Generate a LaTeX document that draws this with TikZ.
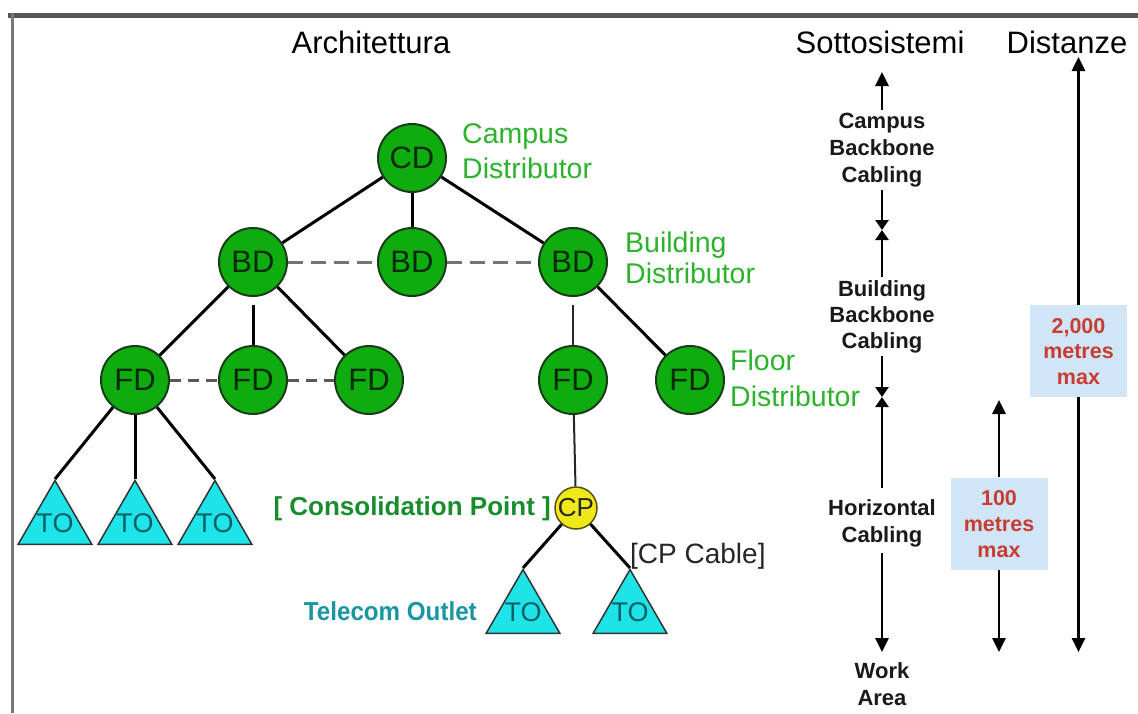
\documentclass[tikz,border=0pt]{standalone}
\usepackage{fontspec}
\setmainfont{Liberation Sans}
\newfontfamily\narrowfont[FakeStretch=0.93]{Liberation Sans}
\usetikzlibrary{arrows.meta,shapes.geometric}
\definecolor{nodegreen}{RGB}{14,172,14}
\definecolor{nodeedge}{RGB}{25,60,25}
\definecolor{nodetxt}{RGB}{10,40,10}
\definecolor{lblgreen}{RGB}{45,178,45}
\definecolor{cpgreen}{RGB}{25,140,45}
\definecolor{tealtxt}{RGB}{25,150,160}
\definecolor{tocyan}{RGB}{30,228,232}
\definecolor{totxt}{RGB}{10,95,105}
\definecolor{cpyellow}{RGB}{240,232,25}
\definecolor{cpedge}{RGB}{90,80,10}
\definecolor{redtxt}{RGB}{200,60,50}
\definecolor{boxblue}{RGB}{208,230,247}
\definecolor{framegray}{RGB}{85,85,85}
\begin{document}
\begin{tikzpicture}[x=1pt,y=-1pt,
  title/.style={font=\fontsize{31}{37}\selectfont, anchor=base, inner sep=0pt},
  dist/.style={circle, draw=nodeedge, line width=2pt, fill=nodegreen, minimum size=68pt, inner sep=0pt, font=\fontsize{31}{36}\selectfont, text=nodetxt},
  cpnode/.style={circle, draw=cpedge, line width=1.5pt, fill=cpyellow, minimum size=42pt, inner sep=0pt, font=\fontsize{26}{30}\selectfont, text=black!85},
  tonode/.style={regular polygon, regular polygon sides=3, minimum size=85pt, inner sep=0pt, draw=black!80, line width=1.5pt, fill=tocyan},
  totext/.style={font=\fontsize{27}{32}\selectfont, text=totxt, inner sep=0pt},
  glabel/.style={font=\fontsize{28.5}{34}\selectfont, text=lblgreen, anchor=base west, inner sep=0pt},
  link/.style={draw=black, line width=3pt},
  thinlink/.style={draw=black!85, line width=2pt},
  dashlink/.style={draw=black!55, line width=3pt, dash pattern=on 15pt off 8pt},
  dashlinkb/.style={draw=black!65, line width=3pt, dash pattern=on 11pt off 7pt},
  arr/.style={draw=black, line width=2.7pt, -{Triangle[width=13pt,length=14pt]}},
  harr/.style={draw=black, line width=2.7pt, -{Triangle[width=13pt,length=10pt]}},
  rtxt/.style={font=\bfseries\fontsize{22}{26}\selectfont, anchor=base, inner sep=0pt, text=black!90},
  redline/.style={font=\bfseries\fontsize{21.5}{25}\selectfont, anchor=base, inner sep=0pt, text=redtxt},
  distbox/.style={fill=boxblue, minimum width=97pt, minimum height=92pt, inner sep=0pt}
]
\useasboundingbox (0,0) rectangle (1138,713);

% frame
\draw[framegray, line width=5pt] (8,15) -- (1138,15);
\draw[framegray!80, line width=3pt] (12,13) -- (12,713);

% titles
\node[title] (tarch) at (371,53) {Architettura};
\node[title] (tsott) at (880,53) {Sottosistemi};
\node[title] (tdist) at (1067,53) {Distanze};

% distributor nodes
\node[dist] (cd) at (412,158) {CD};
\node[dist] (bd1) at (253,262) {BD};
\node[dist] (bd2) at (412,262) {BD};
\node[dist] (bd3) at (573,262) {BD};
\node[dist] (fd1) at (135,380) {FD};
\node[dist] (fd2) at (253,380) {FD};
\node[dist] (fd3) at (369,380) {FD};
\node[dist] (fd4) at (573,380) {FD};
\node[dist] (fd5) at (690,380) {FD};
\node[cpnode] (cp) at (576,508) {CP};

% telecom outlets
\node[tonode] (to1) at (55,523) {};
\node[tonode] (to2) at (135,523) {};
\node[tonode] (to3) at (215,523) {};
\node[tonode] (to4) at (523,612) {};
\node[tonode] (to5) at (630,612) {};
\node[totext] (to1t) at (to1.center) {TO};
\node[totext] (to2t) at (to2.center) {TO};
\node[totext] (to3t) at (to3.center) {TO};
\node[totext] (to4t) at (to4.center) {TO};
\node[totext] (to5t) at (to5.center) {TO};

% connectors
\draw[link] (cd) -- (bd1);
\draw[link] (cd) -- (bd2);
\draw[link] (cd) -- (bd3);
\draw[dashlink] (bd1) -- (bd2);
\draw[dashlink] (bd2) -- (bd3);
\draw[link] (bd1) -- (fd1);
\draw[link, shorten <=8pt] (bd1) -- (fd2);
\draw[link] (bd1) -- (fd3);
\draw[dashlinkb] (fd1) -- (fd2);
\draw[dashlinkb] (fd2) -- (fd3);
\draw[thinlink, shorten <=8pt] (bd3) -- (fd4);
\draw[link] (bd3) -- (fd5);
\draw[link] (fd1) -- (to1.corner 1);
\draw[link] (fd1) -- (to2.corner 1);
\draw[link] (fd1) -- (to3.corner 1);
\draw[thinlink] (fd4) -- (cp);
\draw[link] (cp) -- (to4.corner 1);
\draw[link] (cp) -- (to5.corner 1);

% green labels
\node[glabel] (lcd1) at (462,143) {Campus};
\node[glabel] (lcd2) at (462,178) {Distributor};
\node[glabel] (lbd1) at (625,252) {Building};
\node[glabel] (lbd2) at (625,283) {Distributor};
\node[glabel] (lfd1) at (730,370) {Floor};
\node[glabel] (lfd2) at (730,406) {Distributor};
\node[font=\bfseries\fontsize{26}{30}\selectfont, text=cpgreen, anchor=base east, inner sep=0pt] (lcp) at (551,515) {[ Consolidation Point ]};
\node[font=\fontsize{28}{32}\selectfont, text=black!85, anchor=base west, inner sep=0pt] (lcpc) at (630,563) {[CP Cable]};
\node[font=\narrowfont\bfseries\fontsize{26}{30}\selectfont, text=tealtxt, anchor=base east, inner sep=0pt] (lto) at (477,620) {Telecom Outlet};

% subsystems column
\coordinate (s0) at (882,72);
\coordinate (s1) at (882,110);
\coordinate (s2) at (882,190);
\coordinate (h1) at (882,230);
\coordinate (s3) at (882,277);
\coordinate (s4) at (882,356);
\coordinate (h2) at (882,397);
\coordinate (s5) at (882,488);
\coordinate (s6) at (882,553);
\coordinate (s7) at (882,652);
\draw[arr] (s1) -- (s0);
\draw[harr] (s2) -- (h1);
\draw[harr] (s3) -- (h1);
\draw[harr] (s4) -- (h2);
\draw[harr] (s5) -- (h2);
\draw[arr] (s6) -- (s7);
\node[rtxt] (cb1) at (882,128) {Campus};
\node[rtxt] (cb2) at (882,155) {Backbone};
\node[rtxt] (cb3) at (882,182) {Cabling};
\node[rtxt] (bb1) at (882,296) {Building};
\node[rtxt] (bb2) at (882,322) {Backbone};
\node[rtxt] (bb3) at (882,348) {Cabling};
\node[rtxt] (hc1) at (882,515) {Horizontal};
\node[rtxt] (hc2) at (882,542) {Cabling};
\node[rtxt] (wa1) at (882,678) {Work};
\node[rtxt] (wa2) at (882,705) {Area};

% distances column
\node[distbox] (b2000) at (1078.5,351) {};
\node[redline] (r1) at (1078.5,333) {2,000};
\node[redline] (r2) at (1078.5,358) {metres};
\node[redline] (r3) at (1078.5,384) {max};
\coordinate (d0) at (1078.5,57);
\coordinate (d1) at (1078.5,652);
\draw[arr] (b2000.north) -- (d0);
\draw[arr] (b2000.south) -- (d1);

\node[distbox] (b100) at (999,523.5) {};
\node[redline] (q1) at (999,505) {100};
\node[redline] (q2) at (999,531) {metres};
\node[redline] (q3) at (999,557) {max};
\coordinate (e0) at (999,400);
\coordinate (e1) at (999,652);
\draw[arr] (b100.north) -- (e0);
\draw[arr] (b100.south) -- (e1);
\end{tikzpicture}
\end{document}
